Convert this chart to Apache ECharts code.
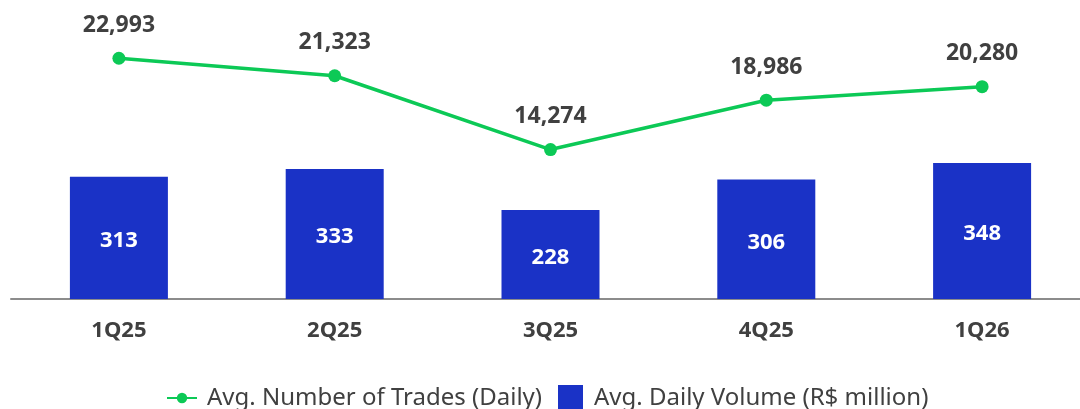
<!DOCTYPE html>
<html>
<head>
<meta charset="utf-8">
<script src="https://cdn.jsdelivr.net/npm/echarts@6/dist/echarts.min.js"></script>
<style>
  html, body { margin: 0; padding: 0; background: #ffffff; }
  #chart { width: 1080px; height: 409px; }
</style>
</head>
<body>
<div id="chart"></div>
<script>
// Quarterly trading activity
const quarters = ['1Q25', '2Q25', '3Q25', '4Q25', '1Q26'];
const avgTrades = [22993, 21323, 14274, 18986, 20280];
const avgVolume = [313, 333, 228, 306, 348];
const tradesName = 'Avg. Number of Trades (Daily)';
const volumeName = 'Avg. Daily Volume (R$ million)';

const FONT = '"Noto Sans", sans-serif';
const TEXT = '#404040';
const GREEN = '#0cc956';
const BLUE = '#1a32c6';

const chart = echarts.init(document.getElementById('chart'), null, { renderer: 'canvas' });

chart.setOption({
  animation: false,
  backgroundColor: '#ffffff',
  textStyle: { fontFamily: FONT },
  grid: { left: 11, width: 1079, top: 10, bottom: 110, containLabel: false, outerBoundsMode: 'none' },
  legend: [
    {
      data: [tradesName],
      left: 166, top: 386, padding: 0,
      itemWidth: 30, itemHeight: 13, itemGap: 0,
      textStyle: { fontFamily: FONT, fontSize: 24, color: TEXT, padding: [0, 0, 0, 5] }
    },
    {
      data: [{ name: volumeName, icon: 'rect' }],
      left: 558, top: 385, padding: 0,
      itemWidth: 25, itemHeight: 26, itemGap: 0,
      textStyle: { fontFamily: FONT, fontSize: 24, color: TEXT, padding: [0, 0, 0, 6] }
    }
  ],
  xAxis: {
    type: 'category',
    data: quarters,
    axisLine: { show: true, lineStyle: { color: '#8c8c8c', width: 2 } },
    axisTick: { show: false },
    axisLabel: { color: TEXT, fontFamily: FONT, fontWeight: 'bold', fontSize: 22, margin: 21 }
  },
  yAxis: [
    { type: 'value', min: 0, max: 740, show: false, splitLine: { show: false } },
    { type: 'value', min: 0, max: 27600, show: false, splitLine: { show: false } }
  ],
  series: [
    {
      name: volumeName,
      type: 'bar',
      yAxisIndex: 0,
      data: avgVolume,
      barWidth: 98,
      itemStyle: { color: BLUE },
      label: {
        show: true, position: 'inside', offset: [0, 3],
        color: '#ffffff', fontFamily: FONT, fontWeight: 'bold', fontSize: 22
      }
    },
    {
      name: tradesName,
      type: 'line',
      yAxisIndex: 1,
      data: avgTrades,
      symbol: 'circle',
      symbolSize: 13,
      lineStyle: { color: GREEN, width: 3.5 },
      itemStyle: { color: GREEN },
      label: {
        show: true, position: 'top', distance: 15,
        color: TEXT, fontFamily: FONT, fontWeight: 'bold', fontSize: 23,
        formatter: p => p.value.toLocaleString('en-US')
      }
    }
  ]
});
</script>
</body>
</html>
